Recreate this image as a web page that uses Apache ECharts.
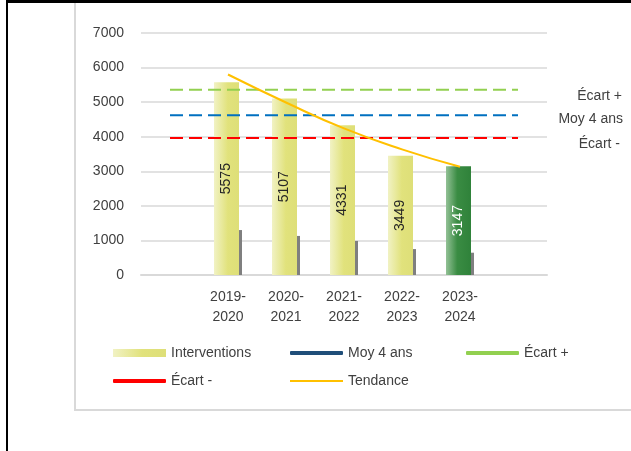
<!DOCTYPE html>
<html>
<head>
<meta charset="utf-8">
<script src="https://cdn.jsdelivr.net/npm/echarts@6/dist/echarts.min.js"></script>
<style>
html,body{margin:0;padding:0;background:#fff;}
#wrap{position:relative;width:631px;height:451px;overflow:hidden;background:#fff;}
#frameGray{position:absolute;left:74px;top:1px;width:600px;height:408px;border-left:2px solid #d9d9d9;border-bottom:2px solid #d9d9d9;}
#frameBlack{position:absolute;left:6px;top:0;width:700px;height:500px;border-left:2px solid #000;border-top:3px solid #000;}
#chart{position:absolute;left:0;top:0;width:631px;height:451px;}
</style>
</head>
<body>
<div id="wrap">
  <div id="frameGray"></div>
  <div id="frameBlack"></div>
  <div id="chart"></div>
</div>
<script>
// ---- data ----
const categories = ['', '2019-\n2020', '2020-\n2021', '2021-\n2022', '2022-\n2023', '2023-\n2024', ''];
const interventions = [null, 5575, 5107, 4331, 3449, 3147, null];
const shadowBars = [null, 1300, 1130, 985, 750, 645, null];
const moyenne = [4620, 4620, 4620, 4620, 4620, 4620, 4620];
const ecartPlus = [5355, 5355, 5355, 5355, 5355, 5355, 5355];
const ecartMoins = [3960, 3960, 3960, 3960, 3960, 3960, 3960];
const tendance = [null, 5800, 4990, 4240, 3635, 3130, null];
const yMin = 0, yMax = 7000, yStep = 1000;
const highlightIndex = 5;

const FONT = 'Liberation Sans';
const TXT = '#404040';

const barGrad = new echarts.graphic.LinearGradient(0, 0, 1, 0, [
  {offset: 0, color: '#f1f2c4'},
  {offset: 0.55, color: '#e1e27c'},
  {offset: 1, color: '#dedf78'}
]);
const greenGrad = new echarts.graphic.LinearGradient(0, 0, 1, 0, [
  {offset: 0, color: '#93c196'},
  {offset: 0.45, color: '#3a8c43'},
  {offset: 1, color: '#2f823a'}
]);

const barData = interventions.map((v, i) => i === highlightIndex
  ? {value: v, itemStyle: {color: greenGrad}, label: {color: '#ffffff'}}
  : v);

function endLabelled(arr, offset) {
  const last = arr.length - 1;
  return arr.map((v, i) => i === last ? {
    value: v,
    label: {show: true, position: 'right', align: 'right', verticalAlign: 'middle',
            offset: offset, formatter: '{a}', color: TXT, fontFamily: FONT, fontSize: 14}
  } : v);
}

function lineSeries(name, data, color, offset) {
  return {
    name: name, type: 'line', data: endLabelled(data, offset),
    symbol: 'circle', symbolSize: 0, showSymbol: true,
    lineStyle: {color: color, width: 2, type: [13, 6]},
    itemStyle: {color: color},
    z: 5, silent: true, animation: false
  };
}

function legendAt(name, left, top, h, icon, style) {
  return {
    data: [{name: name, icon: icon, itemStyle: style}],
    left: left, top: top, itemWidth: 53, itemHeight: h, itemGap: 0,
    selectedMode: false, padding: 0,
    itemStyle: {borderWidth: 0},
    textStyle: {color: TXT, fontFamily: FONT, fontSize: 14, lineHeight: 16, padding: [0,0,0,0]}
  };
}

const chart = echarts.init(document.getElementById('chart'), null, {renderer: 'canvas'});
chart.setOption({
  backgroundColor: 'transparent',
  animation: false,
  grid: {left: 141, right: 84, top: 33, bottom: 176, containLabel: false},
  legend: [
    legendAt('Interventions', 113, 345, 8, 'rect', {color: barGrad, borderWidth: 0}),
    legendAt('Moy 4 ans', 290, 345, 4, 'roundRect', {color: '#1f4e79', borderWidth: 0}),
    legendAt('Écart +', 466, 345, 4, 'roundRect', {color: '#92d050', borderWidth: 0}),
    legendAt('Écart -', 113, 373, 4, 'roundRect', {color: '#ff0000', borderWidth: 0}),
    legendAt('Tendance', 290, 373, 2, 'rect', {color: '#ffc000', borderWidth: 0})
  ],
  xAxis: {
    type: 'category', data: categories,
    axisLine: {lineStyle: {color: '#d9d9d9', width: 2}},
    axisTick: {show: false},
    axisLabel: {color: TXT, fontFamily: FONT, fontSize: 14, lineHeight: 20, margin: 12, interval: 0}
  },
  yAxis: {
    type: 'value', min: yMin, max: yMax, interval: yStep,
    axisLine: {show: false}, axisTick: {show: false},
    splitLine: {lineStyle: {color: '#d9d9d9', width: 1.5}},
    axisLabel: {color: TXT, fontFamily: FONT, fontSize: 14, margin: 17, formatter: (v) => String(v)}
  },
  series: [
    {
      name: 'Interventions', type: 'bar', data: barData, barWidth: 25, barGap: '0%',
      itemStyle: {color: barGrad},
      label: {show: true, position: 'inside', rotate: 90, color: '#262626', fontFamily: FONT, fontSize: 14},
      z: 2
    },
    {
      name: 'ombre', type: 'bar', data: shadowBars, barWidth: 3, barGap: '0%',
      itemStyle: {color: '#7f7f7f'}, silent: true, z: 2
    },
    lineSeries('Écart +', ecartPlus, '#92d050', [99, 6]),
    lineSeries('Moy 4 ans', moyenne, '#0070c0', [100, 4]),
    lineSeries('Écart -', ecartMoins, '#ff0000', [97, 6]),
    {
      name: 'Tendance', type: 'line', data: tendance, smooth: true,
      symbol: 'none', lineStyle: {color: '#ffc000', width: 2},
      itemStyle: {color: '#ffc000'}, z: 6, silent: true
    }
  ]
});
</script>
</body>
</html>
